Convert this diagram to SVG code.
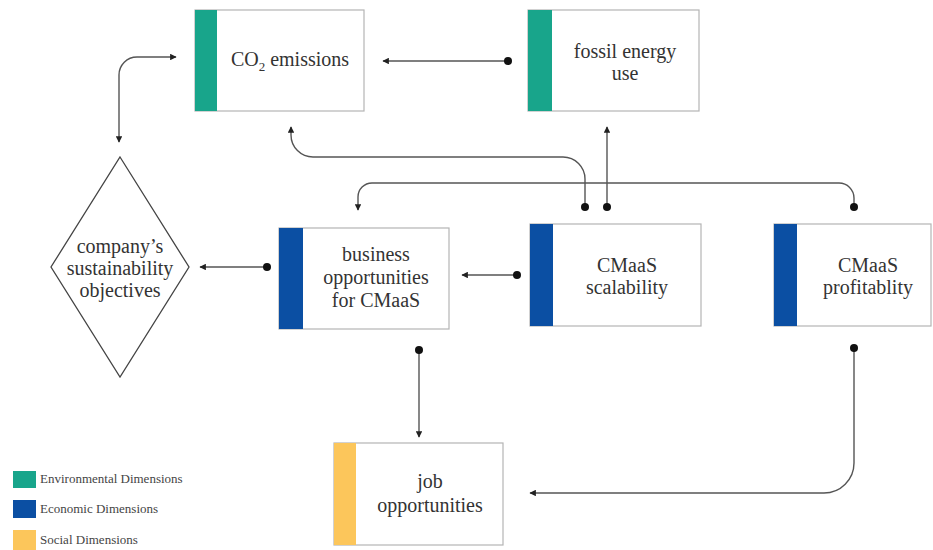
<svg xmlns="http://www.w3.org/2000/svg" width="933" height="550" viewBox="0 0 933 550">
<style>
.box{fill:#fff;stroke:#b4b4b4;stroke-width:1.2}
.env{fill:#18a58b}
.eco{fill:#0b4fa3}
.soc{fill:#fcc65b}
.t{font-family:"Liberation Serif","Times New Roman",serif;font-size:20px;fill:#333;text-anchor:middle}
.lg{font-family:"Liberation Serif","Times New Roman",serif;font-size:13px;fill:#444}
.c{fill:none;stroke:#555;stroke-width:1.4}
.d{marker-start:url(#dot);marker-end:url(#arr)}
</style>
<defs>
<marker id="arr" viewBox="0 0 10 10" refX="9" refY="5" markerUnits="userSpaceOnUse" markerWidth="8" markerHeight="6.5" orient="auto-start-reverse">
<path d="M0,0 L10,5 L0,10 z" fill="#222"/>
</marker>
<marker id="dot" viewBox="0 0 10 10" refX="5" refY="5" markerUnits="userSpaceOnUse" markerWidth="8" markerHeight="8" overflow="visible">
<circle cx="5" cy="5" r="5" fill="#111"/>
</marker>
</defs>
<rect width="933" height="550" fill="#fff"/>

<g id="co2">
<rect class="box" x="195" y="10" width="169" height="101"/>
<rect class="env" x="195" y="10" width="22" height="101"/>
<text class="t" x="290" y="66">CO<tspan font-size="13" dy="5">2</tspan><tspan dy="-5"> emissions</tspan></text>
</g>

<g id="fossil">
<rect class="box" x="528" y="10" width="171" height="101"/>
<rect class="env" x="528" y="10" width="24" height="101"/>
<text class="t" x="625" y="58">fossil energy</text>
<text class="t" x="625" y="80">use</text>
</g>

<g id="objectives">
<polygon points="120,157 189,267 120,377 51,267" fill="#fff" stroke="#444" stroke-width="1.3"/>
<text class="t" x="120" y="253">company’s</text>
<text class="t" x="120" y="275">sustainability</text>
<text class="t" x="120" y="297">objectives</text>
</g>

<g id="business">
<rect class="box" x="279" y="228" width="170" height="101"/>
<rect class="eco" x="279" y="228" width="24" height="101"/>
<text class="t" x="376" y="261">business</text>
<text class="t" x="376" y="284">opportunities</text>
<text class="t" x="376" y="307">for CMaaS</text>
</g>

<g id="scalability">
<rect class="box" x="530" y="224" width="171" height="102"/>
<rect class="eco" x="530" y="224" width="23" height="102"/>
<text class="t" x="627" y="272">CMaaS</text>
<text class="t" x="627" y="294">scalability</text>
</g>

<g id="profitability">
<rect class="box" x="774" y="224" width="157" height="102"/>
<rect class="eco" x="774" y="224" width="23" height="102"/>
<text class="t" x="868" y="272">CMaaS</text>
<text class="t" x="868" y="294">profitablity</text>
</g>

<g id="job">
<rect class="box" x="334" y="443" width="169" height="102"/>
<rect class="soc" x="334" y="443" width="22" height="102"/>
<text class="t" x="430" y="488">job</text>
<text class="t" x="430" y="512">opportunities</text>
</g>

<g id="connectors">
<path class="c d" d="M508,61 H383"/>
<path class="c" d="M176,57 H137 A18,18 0 0 0 119,75 V142" marker-start="url(#arr)" marker-end="url(#arr)"/>
<path class="c d" d="M267,267 H200"/>
<path class="c d" d="M517,275 H462"/>
<path class="c d" d="M585,207 V179 A22,22 0 0 0 563,157 H313 A22,22 0 0 1 291,135 V127"/>
<path class="c d" d="M607,207 V127"/>
<path class="c d" d="M854,207 V198 A15,15 0 0 0 839,183 H372 A14,14 0 0 0 358,197 V210"/>
<path class="c d" d="M419,350 V437"/>
<path class="c d" d="M854,348 V463 A30,30 0 0 1 824,493 H530"/>
</g>

<g id="legend">
<rect class="env" x="13" y="471" width="23" height="17"/>
<text class="lg" x="40" y="483">Environmental Dimensions</text>
<rect class="eco" x="13" y="500" width="23" height="18"/>
<text class="lg" x="40" y="513">Economic Dimensions</text>
<rect class="soc" x="13" y="530" width="23" height="20"/>
<text class="lg" x="40" y="544">Social Dimensions</text>
</g>
</svg>
